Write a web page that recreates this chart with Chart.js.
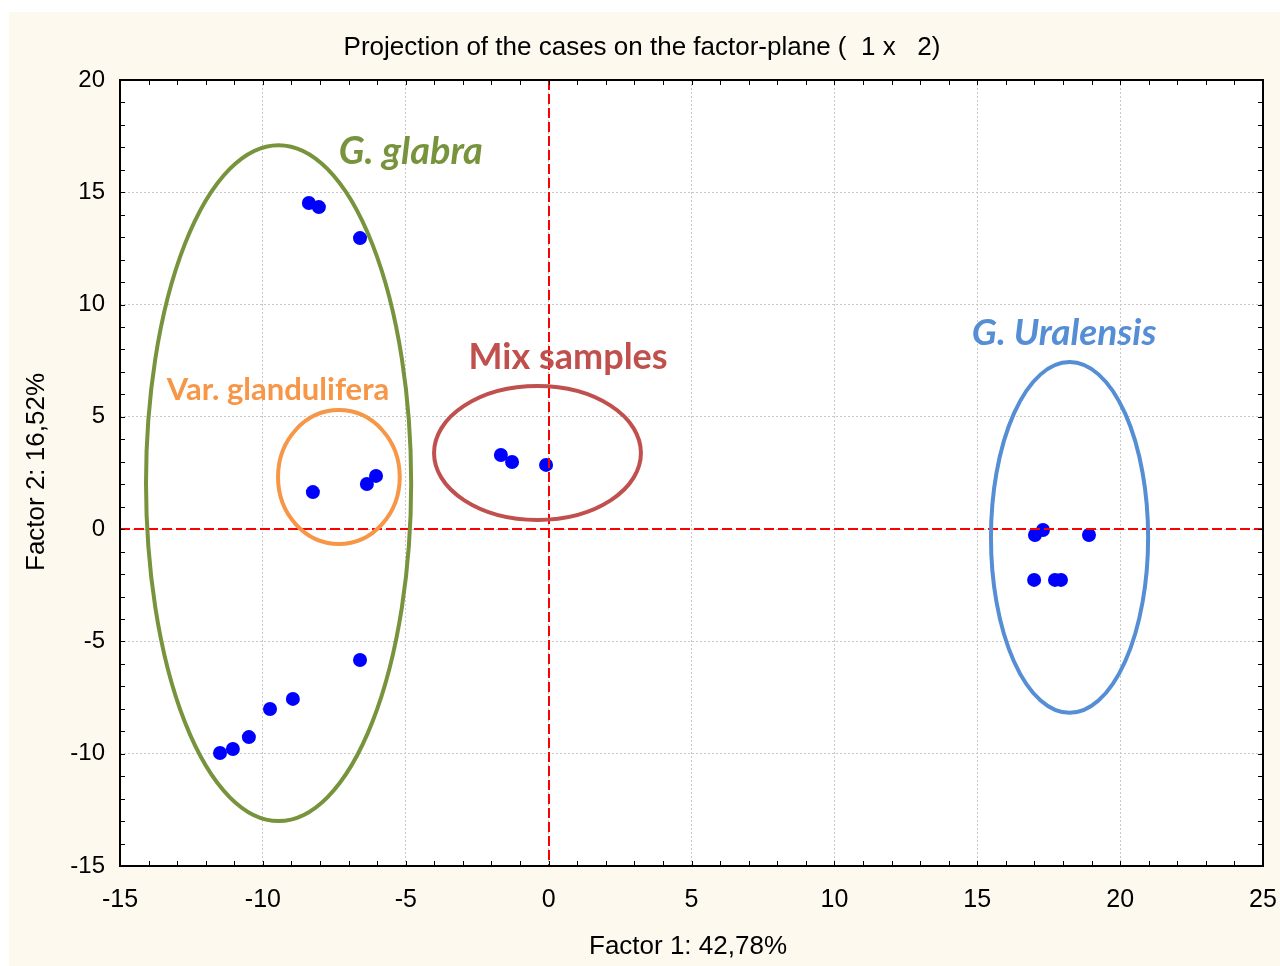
<!DOCTYPE html>
<html>
<head>
<meta charset="utf-8">
<title>Projection of the cases on the factor-plane</title>
<script src="https://cdn.jsdelivr.net/npm/chart.js@4.4.1/dist/chart.umd.min.js"></script>
<style>
  html, body { margin: 0; padding: 0; background: #ffffff; }
  canvas { display: block; }
</style>
</head>
<body>
<canvas id="chart" width="1280" height="966"></canvas>
<script>
// Case scores on the first two factors
const factor1 = [-8.39, -8.04, -6.60, -8.25, -6.36, -6.04, -6.60, -8.95, -9.75, -10.49, -11.05, -11.50,
                 -1.67, -1.28, -0.09, 17.02, 17.30, 18.91, 16.99, 17.72, 17.93];
const factor2 = [14.52, 14.34, 12.96, 1.65, 2.01, 2.37, -5.83, -7.56, -8.01, -9.26, -9.79, -9.97,
                 3.30, 2.99, 2.86, -0.26, -0.04, -0.26, -2.26, -2.26, -2.26];

// Axis ranges and tick values
const xTicks = [-15, -10, -5, 0, 5, 10, 15, 20, 25];
const yTicks = [-15, -10, -5, 0, 5, 10, 15, 20];

// Group outlines (ellipses in factor units) and their labels
const groupNames   = ['G. glabra', 'Var. glandulifera', 'Mix samples', 'G. Uralensis'];
const groupCenterX = [-9.45, -7.34, -0.39, 18.23];
const groupCenterY = [2.05, 2.32, 3.39, -0.37];
const groupRadiusX = [4.64, 2.13, 3.62, 2.75];
const groupRadiusY = [15.05, 2.98, 2.98, 7.81];
const groupLabelX  = [-4.82, -9.47, 0.68, 18.04];
const groupLabelY  = [16.79, 6.20, 7.67, 8.73];

const groupColors  = ['#77933c', '#f79646', '#c0504d', '#558ed5'];
const groupItalic  = [true, false, false, true];
const groupFontPx  = [38, 31, 36, 37];

const FONT = '"Liberation Sans", Arial, sans-serif';

const points = factor1.map((x, i) => ({ x: x, y: factor2[i] }));

const backgroundPlugin = {
  id: 'panelBackground',
  beforeDraw(chart) {
    const ctx = chart.ctx;
    const a = chart.chartArea;
    ctx.save();
    ctx.fillStyle = '#ffffff';
    ctx.fillRect(0, 0, chart.width, chart.height);
    ctx.fillStyle = '#fef9ef';
    ctx.fillRect(9, 12, chart.width - 9, chart.height - 12);
    ctx.fillStyle = '#ffffff';
    ctx.fillRect(a.left, a.top, a.right - a.left, a.bottom - a.top);
    ctx.restore();
  }
};

const overlayPlugin = {
  id: 'factorOverlay',
  afterDatasetsDraw(chart) {
    const ctx = chart.ctx;
    const xs = chart.scales.x, ys = chart.scales.y;
    const a = chart.chartArea;
    ctx.save();

    // zero reference lines
    ctx.strokeStyle = '#ff0000';
    ctx.lineWidth = 2;
    ctx.setLineDash([10, 4]);
    const x0 = Math.round(xs.getPixelForValue(0));
    const y0 = Math.round(ys.getPixelForValue(0));
    ctx.beginPath();
    ctx.moveTo(x0, a.top); ctx.lineTo(x0, a.bottom);
    ctx.moveTo(a.left, y0); ctx.lineTo(a.right, y0);
    ctx.stroke();
    ctx.setLineDash([]);

    // group ellipses
    groupNames.forEach((name, i) => {
      const cx = xs.getPixelForValue(groupCenterX[i]);
      const cy = ys.getPixelForValue(groupCenterY[i]);
      const rx = Math.abs(xs.getPixelForValue(groupCenterX[i] + groupRadiusX[i]) - cx);
      const ry = Math.abs(ys.getPixelForValue(groupCenterY[i] + groupRadiusY[i]) - cy);
      ctx.strokeStyle = groupColors[i];
      ctx.lineWidth = 4;
      ctx.beginPath();
      ctx.ellipse(cx, cy, rx, ry, 0, 0, Math.PI * 2);
      ctx.stroke();
    });

    // group labels
    ctx.textAlign = 'center';
    ctx.textBaseline = 'middle';
    groupNames.forEach((name, i) => {
      ctx.fillStyle = groupColors[i];
      ctx.font = (groupItalic[i] ? 'italic ' : '') + 'bold ' + groupFontPx[i] + 'px Lato, "Open Sans", sans-serif';
      ctx.fillText(name, xs.getPixelForValue(groupLabelX[i]), ys.getPixelForValue(groupLabelY[i]));
    });

    // inward tick marks on all four sides, one per unit
    ctx.strokeStyle = '#000000';
    ctx.lineWidth = 1;
    ctx.beginPath();
    for (let v = xs.min; v <= xs.max; v += 1) {
      const px = Math.round(xs.getPixelForValue(v)) + 0.5;
      ctx.moveTo(px, a.bottom); ctx.lineTo(px, a.bottom - 5);
      ctx.moveTo(px, a.top); ctx.lineTo(px, a.top + 5);
    }
    for (let v = ys.min; v <= ys.max; v += 1) {
      const py = Math.round(ys.getPixelForValue(v)) + 0.5;
      ctx.moveTo(a.left, py); ctx.lineTo(a.left + 5, py);
      ctx.moveTo(a.right, py); ctx.lineTo(a.right - 5, py);
    }
    ctx.stroke();
    ctx.lineWidth = 2;
    ctx.strokeRect(a.left, a.top, a.right - a.left, a.bottom - a.top);

    ctx.restore();
  }
};

const titlesPlugin = {
  id: 'chartTitles',
  afterDraw(chart) {
    const ctx = chart.ctx;
    ctx.save();
    ctx.fillStyle = '#000000';
    ctx.font = '26px ' + FONT;
    ctx.textAlign = 'center';
    ctx.textBaseline = 'middle';
    ctx.fillText('Projection of the cases on the factor-plane (  1 x   2)', 642, 48);
    ctx.fillText('Factor 1: 42,78%', 688, 947);
    ctx.translate(37, 472);
    ctx.rotate(-Math.PI / 2);
    ctx.fillText('Factor 2: 16,52%', 0, 0);
    ctx.restore();
  }
};

new Chart(document.getElementById('chart'), {
  type: 'scatter',
  data: {
    datasets: [{
      data: points,
      backgroundColor: '#0000ff',
      borderWidth: 0,
      pointRadius: 7,
      pointHoverRadius: 7
    }]
  },
  options: {
    responsive: false,
    animation: false,
    devicePixelRatio: 1,
    events: [],
    layout: { padding: { top: 80, right: 17, bottom: 0, left: 0 } },
    plugins: {
      legend: { display: false },
      tooltip: { enabled: false },
      title: { display: false }
    },
    scales: {
      x: {
        type: 'linear',
        min: xTicks[0],
        max: xTicks[xTicks.length - 1],
        afterBuildTicks(scale) { scale.ticks = xTicks.map(v => ({ value: v })); },
        afterFit(scale) { scale.height = 100; scale.paddingLeft = 0; scale.paddingRight = 0; },
        grid: { color: '#c8c8c8', lineWidth: 1, drawTicks: false },
        border: { display: false, dash: [2, 2] },
        ticks: {
          padding: 19,
          color: '#000000',
          font: { family: FONT, size: 25 }
        }
      },
      y: {
        type: 'linear',
        min: yTicks[0],
        max: yTicks[yTicks.length - 1],
        afterBuildTicks(scale) { scale.ticks = yTicks.map(v => ({ value: v })); },
        afterFit(scale) { scale.width = 120; scale.paddingTop = 0; scale.paddingBottom = 0; },
        grid: { color: '#c8c8c8', lineWidth: 1, drawTicks: false },
        border: { display: false, dash: [2, 2] },
        ticks: {
          padding: 15,
          color: '#000000',
          font: { family: FONT, size: 24 }
        }
      }
    }
  },
  plugins: [backgroundPlugin, overlayPlugin, titlesPlugin]
});
</script>
</body>
</html>
